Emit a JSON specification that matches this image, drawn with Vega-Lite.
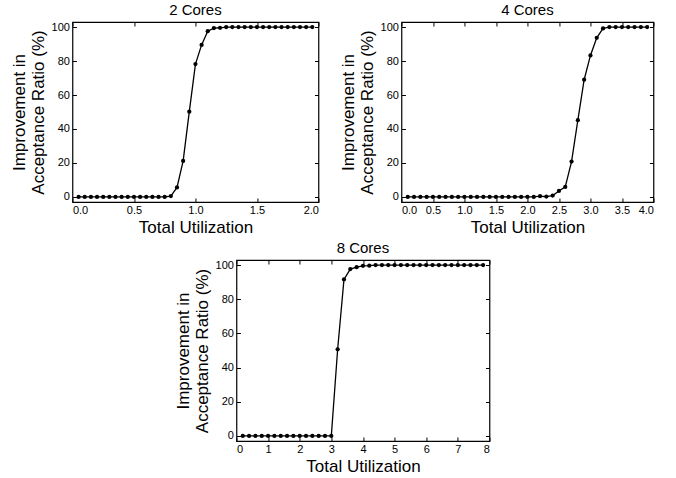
{
  "$schema": "https://vega.github.io/schema/vega-lite/v6.json",
  "background": "white",
  "padding": {"left": 9, "top": 2, "right": 5, "bottom": 5},
  "config": {
    "font": "Liberation Sans",
    "view": {"stroke": "black", "strokeWidth": 1.2},
    "axis": {
      "domain": false, "grid": false,
      "tickColor": "black", "tickSize": -4, "tickWidth": 1,
      "labelFont": "Liberation Sans", "labelFontSize": 11, "labelColor": "black", "labelPadding": 7,
      "titleFont": "Liberation Sans", "titleFontSize": 17, "titleFontWeight": "normal", "titleColor": "black", "titlePadding": 4
    },
    "axisX": {"labelPadding": 6},
    "title": {"font": "Liberation Sans", "fontSize": 15, "fontWeight": "normal", "color": "black", "offset": 3}
  },
  "datasets": {
    "d": [
      {"c":2,"u":0.05,"r":0},{"c":2,"u":0.1,"r":0},{"c":2,"u":0.15,"r":0},{"c":2,"u":0.2,"r":0},{"c":2,"u":0.25,"r":0},
      {"c":2,"u":0.3,"r":0},{"c":2,"u":0.35,"r":0},{"c":2,"u":0.4,"r":0},{"c":2,"u":0.45,"r":0},{"c":2,"u":0.5,"r":0},
      {"c":2,"u":0.55,"r":0},{"c":2,"u":0.6,"r":0},{"c":2,"u":0.65,"r":0},{"c":2,"u":0.7,"r":0},{"c":2,"u":0.75,"r":0},
      {"c":2,"u":0.8,"r":0.5},{"c":2,"u":0.85,"r":5.6},{"c":2,"u":0.9,"r":21.2},{"c":2,"u":0.95,"r":50.2},{"c":2,"u":1.0,"r":78.2},
      {"c":2,"u":1.05,"r":89.5},{"c":2,"u":1.1,"r":97.6},{"c":2,"u":1.15,"r":99.4},{"c":2,"u":1.2,"r":99.6},{"c":2,"u":1.25,"r":100},
      {"c":2,"u":1.3,"r":100},{"c":2,"u":1.35,"r":100},{"c":2,"u":1.4,"r":100},{"c":2,"u":1.45,"r":100},{"c":2,"u":1.5,"r":100},
      {"c":2,"u":1.55,"r":100},{"c":2,"u":1.6,"r":100},{"c":2,"u":1.65,"r":100},{"c":2,"u":1.7,"r":100},{"c":2,"u":1.75,"r":100},
      {"c":2,"u":1.8,"r":100},{"c":2,"u":1.85,"r":100},{"c":2,"u":1.9,"r":100},{"c":2,"u":1.95,"r":100},

      {"c":4,"u":0.1,"r":0},{"c":4,"u":0.2,"r":0},{"c":4,"u":0.3,"r":0},{"c":4,"u":0.4,"r":0},{"c":4,"u":0.5,"r":0},
      {"c":4,"u":0.6,"r":0},{"c":4,"u":0.7,"r":0},{"c":4,"u":0.8,"r":0},{"c":4,"u":0.9,"r":0},{"c":4,"u":1.0,"r":0},
      {"c":4,"u":1.1,"r":0},{"c":4,"u":1.2,"r":0},{"c":4,"u":1.3,"r":0},{"c":4,"u":1.4,"r":0},{"c":4,"u":1.5,"r":0},
      {"c":4,"u":1.6,"r":0},{"c":4,"u":1.7,"r":0},{"c":4,"u":1.8,"r":0},{"c":4,"u":1.9,"r":0},{"c":4,"u":2.0,"r":0},
      {"c":4,"u":2.1,"r":0},{"c":4,"u":2.2,"r":0.4},{"c":4,"u":2.3,"r":0.2},{"c":4,"u":2.4,"r":0.8},{"c":4,"u":2.5,"r":3.5},
      {"c":4,"u":2.6,"r":5.9},{"c":4,"u":2.7,"r":20.8},{"c":4,"u":2.8,"r":45.2},{"c":4,"u":2.9,"r":69},{"c":4,"u":3.0,"r":83.3},
      {"c":4,"u":3.1,"r":93.7},{"c":4,"u":3.2,"r":99.2},{"c":4,"u":3.3,"r":100},{"c":4,"u":3.4,"r":100},{"c":4,"u":3.5,"r":100},
      {"c":4,"u":3.6,"r":100},{"c":4,"u":3.7,"r":100},{"c":4,"u":3.8,"r":100},{"c":4,"u":3.9,"r":100},

      {"c":8,"u":0.2,"r":0},{"c":8,"u":0.4,"r":0},{"c":8,"u":0.6,"r":0},{"c":8,"u":0.8,"r":0},{"c":8,"u":1.0,"r":0},
      {"c":8,"u":1.2,"r":0},{"c":8,"u":1.4,"r":0},{"c":8,"u":1.6,"r":0},{"c":8,"u":1.8,"r":0},{"c":8,"u":2.0,"r":0},
      {"c":8,"u":2.2,"r":0},{"c":8,"u":2.4,"r":0},{"c":8,"u":2.6,"r":0},{"c":8,"u":2.8,"r":0},{"c":8,"u":3.0,"r":0},
      {"c":8,"u":3.2,"r":50.7},{"c":8,"u":3.4,"r":91.6},{"c":8,"u":3.6,"r":97.7},{"c":8,"u":3.8,"r":98.8},{"c":8,"u":4.0,"r":99.6},
      {"c":8,"u":4.2,"r":99.7},{"c":8,"u":4.4,"r":100},{"c":8,"u":4.6,"r":100},{"c":8,"u":4.8,"r":100},{"c":8,"u":5.0,"r":100},
      {"c":8,"u":5.2,"r":100},{"c":8,"u":5.4,"r":100},{"c":8,"u":5.6,"r":100},{"c":8,"u":5.8,"r":100},{"c":8,"u":6.0,"r":100},
      {"c":8,"u":6.2,"r":100},{"c":8,"u":6.4,"r":100},{"c":8,"u":6.6,"r":100},{"c":8,"u":6.8,"r":100},{"c":8,"u":7.0,"r":100},
      {"c":8,"u":7.2,"r":100},{"c":8,"u":7.4,"r":100},{"c":8,"u":7.6,"r":100},{"c":8,"u":7.8,"r":100}
    ]
  },
  "center": true,
  "spacing": 4,
  "vconcat": [
    {
      "spacing": 18,
      "hconcat": [
        {
          "title": "2 Cores",
          "width": 246, "height": 180,
          "data": {"name": "d"},
          "transform": [{"filter": "datum.c == 2"}],
          "resolve": {"axis": {"x": "independent", "y": "independent"}},
          "layer": [
            {
              "mark": {"type": "line", "color": "black", "strokeWidth": 1.3, "point": {"filled": true, "size": 18, "color": "black"}},
              "encoding": {
                "x": {"field": "u", "type": "quantitative", "scale": {"domain": [0, 2], "nice": false}, "axis": {"values": [0, 0.5, 1, 1.5, 2], "format": ".1f", "title": "Total Utilization"}},
                "y": {"field": "r", "type": "quantitative", "scale": {"domain": [-3, 103], "nice": false}, "axis": {"values": [0, 20, 40, 60, 80, 100], "title": ["Improvement in", "Acceptance Ratio (%)"]}}
              }
            },
            {
              "mark": {"type": "point", "opacity": 0},
              "encoding": {
                "x": {"field": "u", "type": "quantitative", "axis": {"orient": "top", "values": [0, 0.5, 1, 1.5, 2], "labels": false, "title": null}},
                "y": {"field": "r", "type": "quantitative", "axis": {"orient": "right", "values": [0, 20, 40, 60, 80, 100], "labels": false, "title": null}}
              }
            }
          ]
        },
        {
          "title": "4 Cores",
          "width": 252, "height": 180,
          "data": {"name": "d"},
          "transform": [{"filter": "datum.c == 4"}],
          "resolve": {"axis": {"x": "independent", "y": "independent"}},
          "layer": [
            {
              "mark": {"type": "line", "color": "black", "strokeWidth": 1.3, "point": {"filled": true, "size": 18, "color": "black"}},
              "encoding": {
                "x": {"field": "u", "type": "quantitative", "scale": {"domain": [0, 4], "nice": false}, "axis": {"values": [0, 0.5, 1, 1.5, 2, 2.5, 3, 3.5, 4], "format": ".1f", "title": "Total Utilization"}},
                "y": {"field": "r", "type": "quantitative", "scale": {"domain": [-3, 103], "nice": false}, "axis": {"values": [0, 20, 40, 60, 80, 100], "title": ["Improvement in", "Acceptance Ratio (%)"]}}
              }
            },
            {
              "mark": {"type": "point", "opacity": 0},
              "encoding": {
                "x": {"field": "u", "type": "quantitative", "axis": {"orient": "top", "values": [0, 0.5, 1, 1.5, 2, 2.5, 3, 3.5, 4], "labels": false, "title": null}},
                "y": {"field": "r", "type": "quantitative", "axis": {"orient": "right", "values": [0, 20, 40, 60, 80, 100], "labels": false, "title": null}}
              }
            }
          ]
        }
      ]
    },
    {
      "title": "8 Cores",
      "width": 253, "height": 181,
      "data": {"name": "d"},
      "transform": [{"filter": "datum.c == 8"}],
      "resolve": {"axis": {"x": "independent", "y": "independent"}},
      "layer": [
        {
          "mark": {"type": "line", "color": "black", "strokeWidth": 1.3, "point": {"filled": true, "size": 18, "color": "black"}},
          "encoding": {
            "x": {"field": "u", "type": "quantitative", "scale": {"domain": [0, 8], "nice": false}, "axis": {"values": [0, 1, 2, 3, 4, 5, 6, 7, 8], "format": "d", "title": "Total Utilization"}},
            "y": {"field": "r", "type": "quantitative", "scale": {"domain": [-3, 103], "nice": false}, "axis": {"values": [0, 20, 40, 60, 80, 100], "title": ["Improvement in", "Acceptance Ratio (%)"]}}
          }
        },
        {
          "mark": {"type": "point", "opacity": 0},
          "encoding": {
            "x": {"field": "u", "type": "quantitative", "axis": {"orient": "top", "values": [0, 1, 2, 3, 4, 5, 6, 7, 8], "labels": false, "title": null}},
            "y": {"field": "r", "type": "quantitative", "axis": {"orient": "right", "values": [0, 20, 40, 60, 80, 100], "labels": false, "title": null}}
          }
        }
      ]
    }
  ]
}
